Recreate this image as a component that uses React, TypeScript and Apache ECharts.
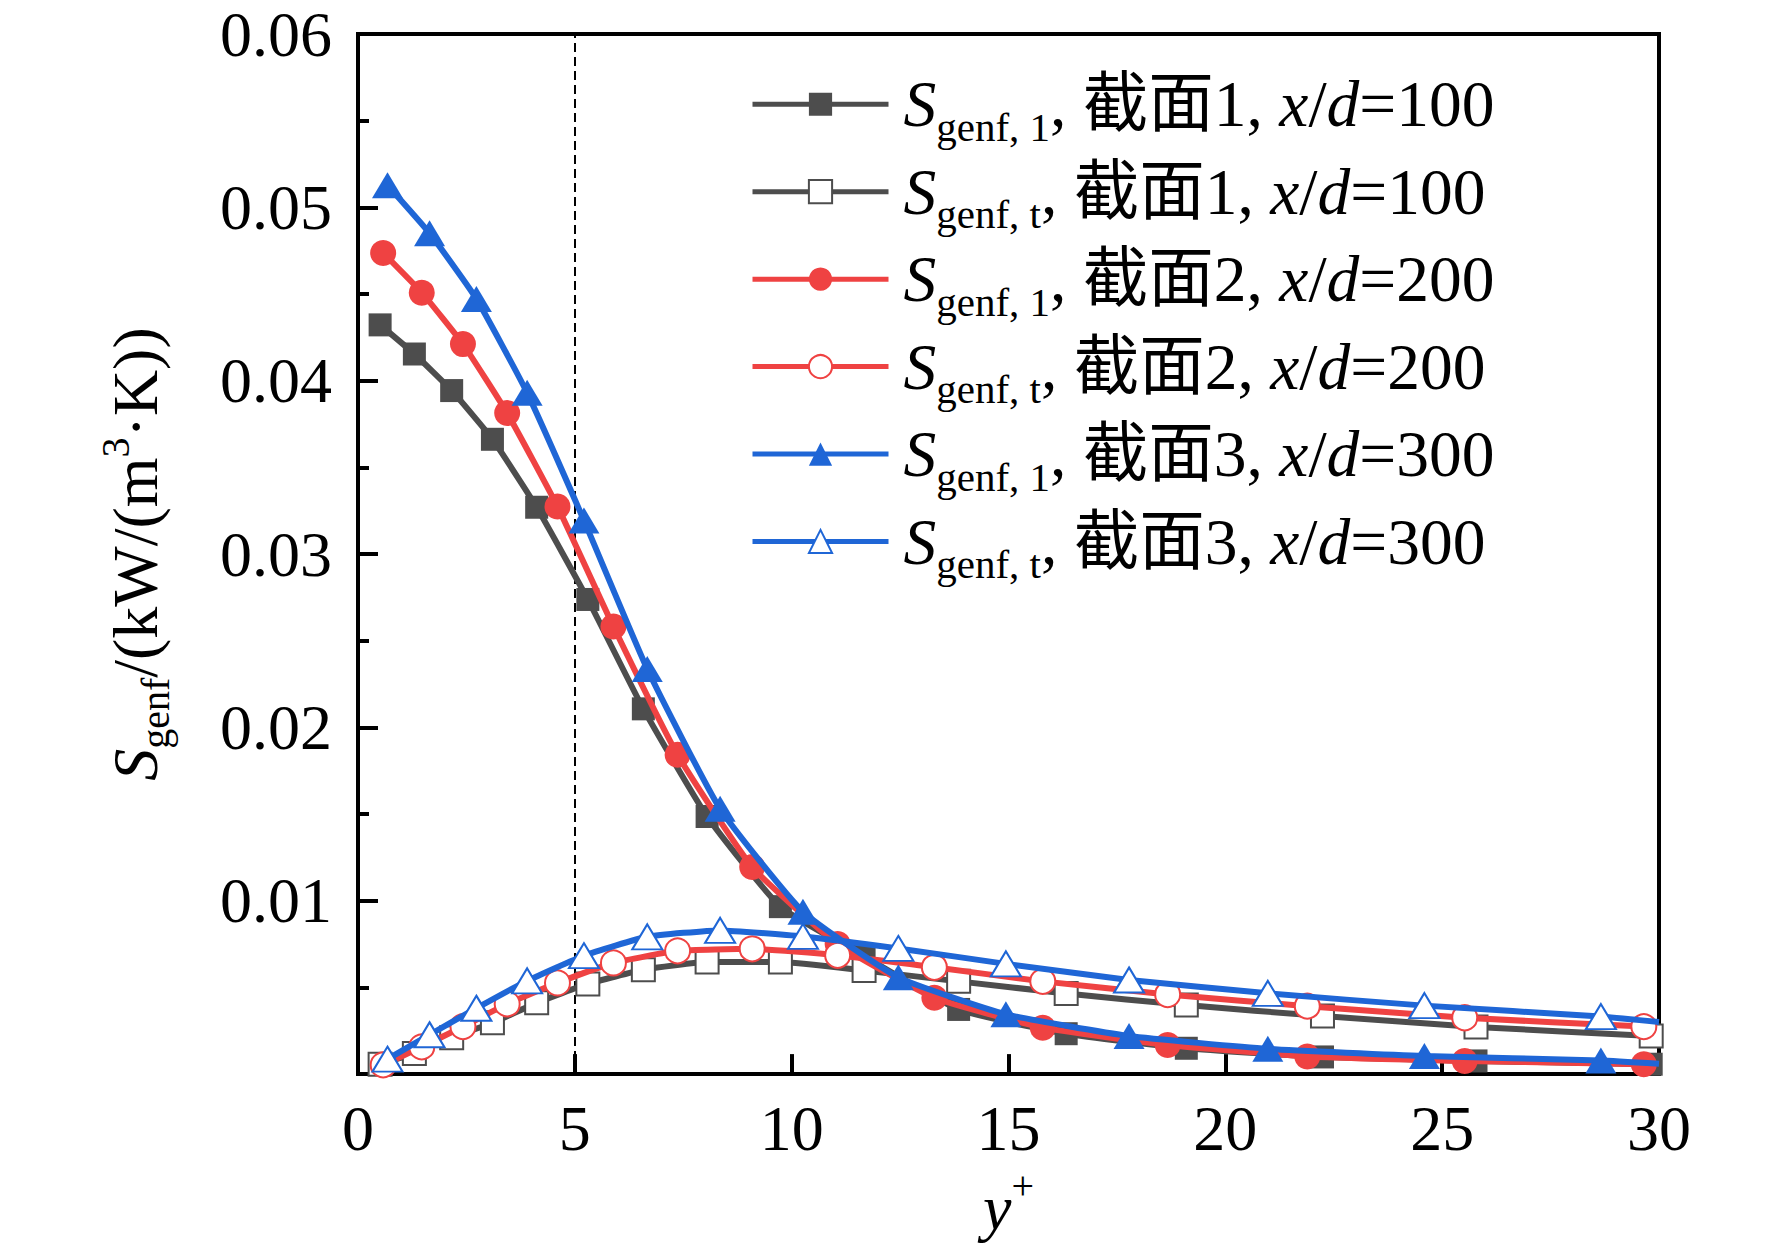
import React, { useEffect, useRef } from 'react';
import * as echarts from 'echarts';

const FONT = "'Liberation Serif', 'Times New Roman', 'Noto Sans CJK SC', serif";

// y+ positions of the markers
const xSec1 = [0.51, 1.30, 2.16, 3.10, 4.12, 5.30, 6.58, 8.05, 9.74, 11.67, 13.85, 16.33, 19.10, 22.24, 25.78, 29.82];
const xSec2 = [0.58, 1.47, 2.42, 3.44, 4.60, 5.89, 7.37, 9.09, 11.06, 13.29, 15.79, 18.67, 21.89, 25.52, 29.65];
const xSec3 = [0.68, 1.65, 2.73, 3.90, 5.21, 6.67, 8.35, 10.26, 12.46, 14.94, 17.78, 20.98, 24.59, 28.66];

// S_genf,1 and S_genf,t values, kW/(m^3·K)
const sGen1Sec1 = [0.04322, 0.04154, 0.03943, 0.03662, 0.0327, 0.02738, 0.02107, 0.01486, 0.00966, 0.0068, 0.00373, 0.00233, 0.00149, 0.00099, 0.00076, 0.00057];
const sGenTSec1 = [0.00057, 0.00119, 0.0021, 0.00296, 0.00411, 0.0052, 0.00602, 0.00646, 0.00646, 0.00598, 0.00535, 0.00465, 0.00398, 0.00335, 0.00272, 0.0022];
const sGen1Sec2 = [0.04737, 0.04508, 0.04211, 0.03813, 0.03274, 0.02582, 0.01842, 0.01195, 0.0075, 0.0044, 0.00268, 0.00168, 0.00102, 0.00076, 0.00057];
const sGenTSec2 = [0.00053, 0.00157, 0.00274, 0.00405, 0.00526, 0.00641, 0.00711, 0.00723, 0.00685, 0.00616, 0.00535, 0.00459, 0.00392, 0.00325, 0.00274];
const sGen1Sec3 = [0.05128, 0.04851, 0.04472, 0.0393, 0.03194, 0.02337, 0.0153, 0.00937, 0.00558, 0.00345, 0.0022, 0.00146, 0.00105, 0.00079];
const sGenTSec3 = [0.00086, 0.00227, 0.0038, 0.00538, 0.00683, 0.00792, 0.00829, 0.00794, 0.00725, 0.00636, 0.00543, 0.00466, 0.00395, 0.00332];
// where the section-3 curves meet the right border (no marker)
const xSec3End = 30;
const sGen1Sec3End = 0.0006;
const sGenTSec3End = 0.003;

const xTickValues = [0, 5, 10, 15, 20, 25, 30];
const yTickValues = [0.01, 0.02, 0.03, 0.04, 0.05, 0.06];
const dashedLineX = 5;

const sectionNames = ['截面1', '截面2', '截面3'];
const xdValues = ['100', '200', '300'];
const colors = ['#4d4d4d', '#ef4242', '#1f66d6'];

type Def = {
  key: string;
  x: number[];
  y: number[];
  sec: number;
  sub: string;
  filled: boolean;
  symbol: string;
  size: number | number[];
  end?: number[];
};

const defs: Def[] = [
  { key: 's1f', x: xSec1, y: sGen1Sec1, sec: 0, sub: '1', filled: true, symbol: 'rect', size: 23 },
  { key: 's1t', x: xSec1, y: sGenTSec1, sec: 0, sub: 't', filled: false, symbol: 'rect', size: 23 },
  { key: 's2f', x: xSec2, y: sGen1Sec2, sec: 1, sub: '1', filled: true, symbol: 'circle', size: 26 },
  { key: 's2t', x: xSec2, y: sGenTSec2, sec: 1, sub: 't', filled: false, symbol: 'circle', size: 25 },
  { key: 's3f', x: xSec3, y: sGen1Sec3, sec: 2, sub: '1', filled: true, symbol: 'triangle', size: [31, 26], end: [xSec3End, sGen1Sec3End] },
  { key: 's3t', x: xSec3, y: sGenTSec3, sec: 2, sub: 't', filled: false, symbol: 'triangle', size: [30, 25], end: [xSec3End, sGenTSec3End] },
];

const legendText = (d: Def) =>
  `{s|S}{sub|genf, ${d.sub}}{n|, ${sectionNames[d.sec]}, }{i|x}{n|/}{i|d}{n|=${xdValues[d.sec]}}`;

const makeRich = (size: number, subSize: number, lh: number) => {
  const main = (extra: any = {}) => ({ fontFamily: FONT, fontSize: size, lineHeight: lh, color: '#000', ...extra });
  return {
    s: main({ fontStyle: 'italic' }),
    i: main({ fontStyle: 'italic' }),
    n: main(),
    sub: { fontFamily: FONT, fontSize: subSize, color: '#000', verticalAlign: 'bottom' },
    sup: { fontFamily: FONT, fontSize: subSize, color: '#000', verticalAlign: 'top' },
  };
};

export default function App() {
  const ref = useRef<HTMLDivElement>(null);

  useEffect(() => {
    document.body.style.margin = '0';
    if (!ref.current) return;
    const chart = echarts.init(ref.current, undefined, { renderer: 'svg' });

    const legendMap: Record<string, string> = {};
    defs.forEach((d) => (legendMap[d.key] = legendText(d)));

    const series: any[] = defs.map((d, idx) => {
      const c = colors[d.sec];
      const data: any[] = d.x.map((xv, i) => [xv, d.y[i]]);
      if (d.end) data.push({ value: d.end, symbol: 'none' });
      const s: any = {
        name: d.key,
        type: 'line',
        data,
        symbol: d.symbol,
        symbolSize: d.size,
        showSymbol: true,
        smooth: 0.15,
        lineStyle: { color: c, width: 6 },
        itemStyle: d.filled
          ? { color: c, borderWidth: 0 }
          : { color: '#ffffff', borderColor: c, borderWidth: 2 },
        emphasis: { disabled: true },
        z: 2 + idx,
      };
      if (idx === 0) {
        s.markLine = {
          silent: true,
          symbol: 'none',
          label: { show: false },
          lineStyle: { color: '#000', width: 2, type: [9, 5] },
          data: [{ xAxis: dashedLineX }],
          z: 1,
        };
      }
      return s;
    });

    const option: any = {
      animation: false,
      backgroundColor: '#ffffff',
      grid: {
        left: 358,
        right: 113,
        top: 34,
        bottom: 164,
        show: true,
        borderColor: '#000',
        borderWidth: 4,
        backgroundColor: 'transparent',
      },
      xAxis: {
        type: 'value',
        min: xTickValues[0],
        max: xTickValues[xTickValues.length - 1],
        interval: xTickValues[1] - xTickValues[0],
        name: '{i|y}{sup|+}',
        nameLocation: 'middle',
        nameGap: 70,
        nameTextStyle: { rich: makeRich(64, 40, 84) },
        axisLine: { show: true, onZero: false, lineStyle: { color: '#000', width: 4 } },
        axisTick: { show: true, inside: true, length: 20, lineStyle: { color: '#000', width: 4 } },
        axisLabel: { fontFamily: FONT, fontSize: 64, color: '#000', margin: 22 },
        splitLine: { show: false },
      },
      yAxis: {
        type: 'value',
        min: 0,
        max: yTickValues[yTickValues.length - 1],
        interval: yTickValues[1] - yTickValues[0],
        name: '{s|S}{sub|genf}{n|/(kW/(m}{sup|3}{n|·K))}',
        nameLocation: 'middle',
        nameGap: 183,
        nameTextStyle: { rich: makeRich(64, 40, 80) },
        axisLine: { show: true, lineStyle: { color: '#000', width: 4 } },
        axisTick: { show: true, inside: true, length: 20, lineStyle: { color: '#000', width: 4 } },
        minorTick: { show: true, splitNumber: 2, length: 11, lineStyle: { color: '#000', width: 4 } },
        axisLabel: {
          fontFamily: FONT,
          fontSize: 64,
          color: '#000',
          margin: 26,
          formatter: (v: number) => (Math.abs(v) < 1e-9 ? '' : v.toFixed(2)),
        },
        splitLine: { show: false },
        minorSplitLine: { show: false },
      },
      legend: {
        orient: 'vertical',
        left: 750,
        top: 71.5,
        padding: 0,
        itemGap: 11.7,
        itemWidth: 136,
        itemHeight: 29,
        selectedMode: false,
        data: defs.map((d) => d.key),
        formatter: (name: string) => legendMap[name],
        lineStyle: { width: 5 },
        textStyle: {
          fontFamily: FONT,
          fontSize: 66,
          color: '#000',
          padding: [0, 0, 0, 10],
          rich: makeRich(65.5, 41, 86),
        },
      },
      series,
    };

    chart.setOption(option);
    return () => chart.dispose();
  }, []);

  return <div ref={ref} style={{ width: 1772, height: 1244 }} />;
}
